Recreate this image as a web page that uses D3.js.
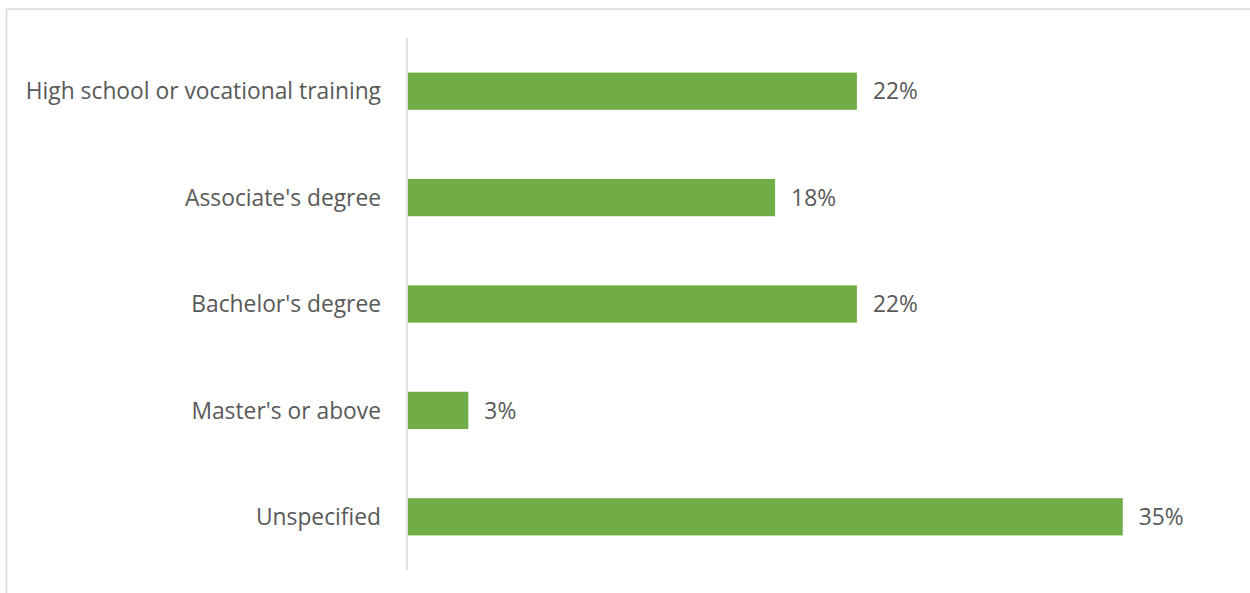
<!DOCTYPE html>
<html>
<head>
<meta charset="utf-8">
<script src="https://cdn.jsdelivr.net/npm/d3@7"></script>
<style>
  body { margin: 0; background: #fff; }
  text { font-family: "Open Sans", "Noto Sans", sans-serif; fill: #595959; }
</style>
</head>
<body>
<div id="chart"></div>
<script>
// data
const categories = ["High school or vocational training", "Associate's degree", "Bachelor's degree", "Master's or above", "Unspecified"];
const values = [22, 18, 22, 3, 35];
const valueLabels = ["22%", "18%", "22%", "3%", "35%"];

const width = 1250;
const height = 593;
const margin = {top: 38, left: 407, bottom: 23};
const fontSize = '22.8px';

const svg = d3.select('#chart').append('svg')
    .attr('width', width)
    .attr('height', height);

// chart frame (runs off the right/bottom edge)
svg.append('rect')
    .attr('x', 6.5).attr('y', 9)
    .attr('width', 1300).attr('height', 700)
    .attr('fill', 'none')
    .attr('stroke', '#d9d9d9')
    .attr('stroke-width', 1.5);

const x = d3.scaleLinear()
    .domain([0, 1])
    .range([margin.left, margin.left + 20.45]);

const y = d3.scaleBand()
    .domain(categories)
    .range([margin.top, height - margin.bottom])
    .paddingInner(0.65)
    .paddingOuter(0.325);

svg.selectAll('rect.bar')
    .data(values)
    .enter()
    .append('rect')
    .attr('class', 'bar')
    .attr('x', x(0) + 1)
    .attr('y', (d, i) => y(categories[i]))
    .attr('width', d => x(d) - x(0) - 1)
    .attr('height', y.bandwidth())
    .attr('fill', '#70ad47');

// category axis line
svg.append('line')
    .attr('x1', x(0)).attr('x2', x(0))
    .attr('y1', margin.top).attr('y2', height - margin.bottom)
    .attr('stroke', '#d9d9d9')
    .attr('stroke-width', 1.5);

svg.selectAll('text.cat')
    .data(categories)
    .enter()
    .append('text')
    .attr('class', 'cat')
    .attr('x', x(0) - 26)
    .attr('y', d => y(d) + y.bandwidth() / 2)
    .attr('dy', '0.36em')
    .attr('text-anchor', 'end')
    .style('font-size', fontSize)
    .text(d => d);

svg.selectAll('text.val')
    .data(values)
    .enter()
    .append('text')
    .attr('class', 'val')
    .attr('x', d => x(d) + 16)
    .attr('y', (d, i) => y(categories[i]) + y.bandwidth() / 2)
    .attr('dy', '0.36em')
    .style('font-size', fontSize)
    .text((d, i) => valueLabels[i]);
</script>
</body>
</html>
